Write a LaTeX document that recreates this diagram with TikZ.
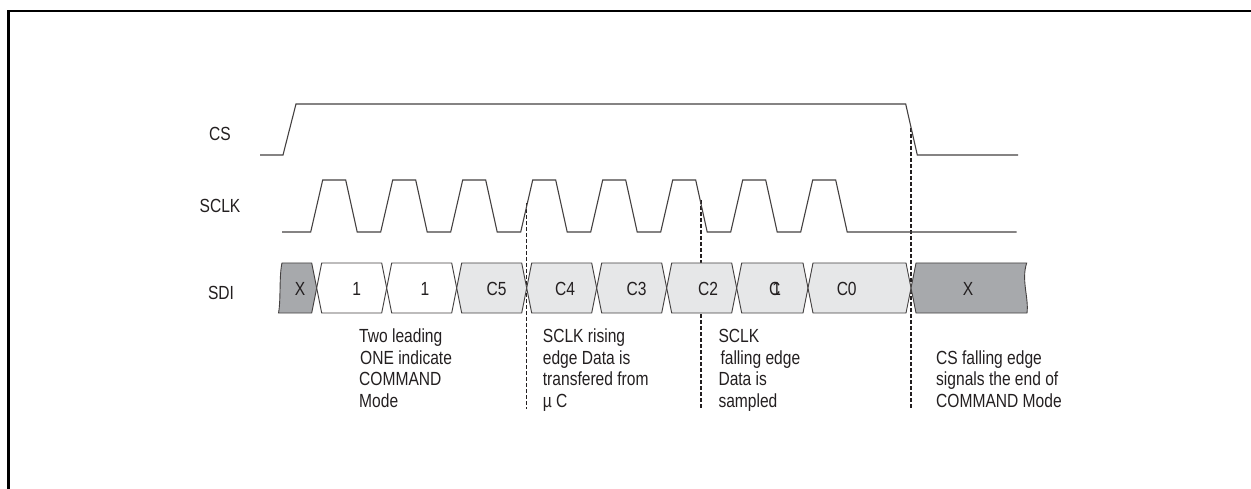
\documentclass[tikz,border=0pt]{standalone}
\usepackage{fontspec}
\setmainfont[FakeStretch=0.82]{Liberation Sans}
\definecolor{xgray}{HTML}{A7A9AC}
\definecolor{cgray}{HTML}{E6E7E8}
\definecolor{ink}{HTML}{231F20}
\begin{document}
\begin{tikzpicture}[x=1pt,y=-1pt,
  sig/.style={draw=ink!85, line width=1.1pt, line join=miter},
  boxline/.style={draw=ink!85, line width=0.9pt},
  dsh/.style={draw=ink, line width=1.2pt, dash pattern=on 4pt off 2pt},
  lbl/.style={font=\fontsize{19}{21.5}\selectfont, text=ink, inner sep=0pt},
  note/.style={lbl, align=left, anchor=base west}]
\useasboundingbox (0,0) rectangle (1251,489);
% frame
\draw[line width=2.5pt] (8.5,489) -- (8.5,11) -- (1251,11);
% signal names
\node[lbl, anchor=base] (ncs) at (220,141) {CS};
\node[lbl, anchor=base] (nsclk) at (220,212.7) {SCLK};
\node[lbl, anchor=base] (nsdi) at (221,300) {SDI};
% marker coordinates
\coordinate (d1t) at (526.7,203); \coordinate (d1b) at (526.7,409);
\coordinate (d2t) at (701,200);   \coordinate (d2b) at (701,409);
\coordinate (d3t) at (911,128);   \coordinate (d3b) at (911,409);
\draw[dsh] (d1t) -- (d1b);
\draw[dsh] (d2t) -- (d2b);
\draw[dsh] (d3t) -- (d3b);
% CS
\draw[sig] (260,155) -- (283,155) -- (296,104) -- (905.7,104) -- (917.3,155) -- (1018,155);
% SCLK
\draw[sig] (282,232) foreach \k in {0,...,7} { -- ({310.7+70*\k},232) -- ({322.7+70*\k},180) -- ({345.7+70*\k},180) -- ({357.2+70*\k},232) } -- (1016.7,232);
% SDI boxes
\def\tp{263}\def\bt{313}\def\md{288}
\filldraw[boxline, fill=xgray] (282,\tp) -- (311.7,\tp) -- (316.7,\md) -- (311.7,\bt) -- (278.5,\bt)
  .. controls (281,300) and (279,276) .. cycle;
\foreach \a/\b/\c in {316.7/386.7/white, 386.7/456.7/white, 456.7/526.7/cgray, 526.7/596.7/cgray,
  596.7/666.7/cgray, 666.7/736.7/cgray, 736.7/808/cgray, 808/911/cgray} {
  \filldraw[boxline, fill=\c] (\a,\md) -- ({\a+5},\tp) -- ({\b-5},\tp) -- (\b,\md) -- ({\b-5},\bt) -- ({\a+5},\bt) -- cycle;
}
\filldraw[boxline, fill=xgray] (911,\md) -- (916,\tp) -- (1026.7,\tp) .. controls (1021,280) and (1029,298) .. (1027,\bt) -- (916,\bt) -- cycle;
\node[lbl, anchor=base] (bx0) at (300,295.7) {X};
\node[lbl, anchor=base] (b1) at (356.7,295.7) {1};
\node[lbl, anchor=base] (b2) at (425,295.7) {1};
\node[lbl, anchor=base] (b3) at (496.7,295.7) {C5};
\node[lbl, anchor=base] (b4) at (565,295.7) {C4};
\node[lbl, anchor=base] (b5) at (636.7,295.7) {C3};
\node[lbl, anchor=base] (b6) at (708,295.7) {C2};
\node[lbl, anchor=base] (b7) at (775,295.7) {C\kern-8pt 1};
\node[lbl, anchor=base] (b8) at (846.7,295.7) {C0};
\node[lbl, anchor=base] (bx9) at (968,295.7) {X};
% notes (base anchor = baseline of last line)
\node[note] (a1) at (359,407) {Two leading\\\hspace{1pt}ONE indicate\\COMMAND\\Mode};
\node[note] (a2) at (542.7,407) {SCLK rising\\edge Data is\\transfered from\\µ C};
\node[note] (a3) at (718.3,407) {SCLK\\\hspace{2pt}falling edge\\Data is\\sampled};
\node[note] (a4) at (936,407) {CS falling edge\\signals the end of\\COMMAND Mode};
\end{tikzpicture}
\end{document}
